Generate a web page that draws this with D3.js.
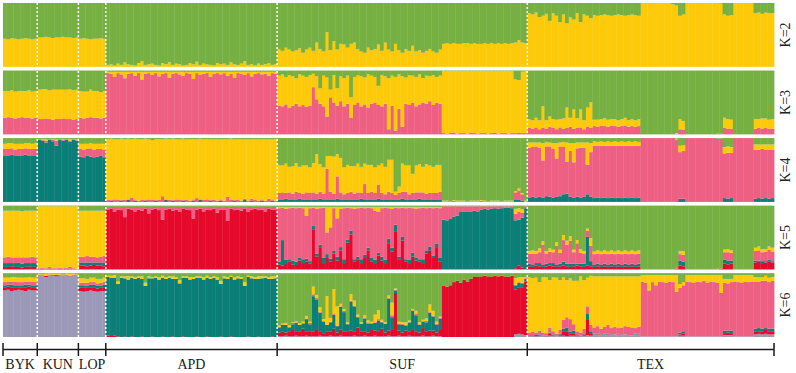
<!DOCTYPE html>
<html>
<head>
<meta charset="utf-8">
<script src="https://cdn.jsdelivr.net/npm/d3@7"></script>
<style>
  body { margin: 0; background: #fff; }
</style>
</head>
<body>
<div id="chart"></div>
<script>
const chart_width = 796;
const chart_height = 373;

// populations shown on the axis, and the sample blocks the values are typed in
const groups = ['BYK', 'KUN', 'LOP', 'APD', 'SUF', 'TEX'];
const group_blocks = [1, 1, 1, 1, 2, 2];           // SUF and TEX are typed as two blocks each
const block_sizes = [10, 12, 8, 50, 48, 25, 33, 39]; // individuals per block

const k_values = [2, 3, 4, 5, 6];
const k_labels = ['K=2', 'K=3', 'K=4', 'K=5', 'K=6'];

// clusters from bottom of the bar to top; green is whatever is left
const clusters = ['lavender', 'red', 'teal', 'pink', 'yellow', 'green'];
const cluster_colors = ['#9b98b8', '#e5092b', '#0b7f77', '#ee6083', '#fdca0a', '#76b043'];

// ancestry (%) per individual, one string per block: BYK, KUN, LOP, APD, SUF a, SUF b, TEX a, TEX b
const k2_yellow = [
    '44 43 45 44 43 44 45 44 43 44',
    '46 46 47 46 45 46 46 47 46 46 45 46',
    '44 45 44 43 44 44 45 44',
    '3 4 2 5 3 7 4 3 2 6 9 3 4 5 3 2 6 4 7 3 5 4 2 3 6 4 8 3 5 4 3 2 6 4 5 3 7 4 3 5 9 3 4 2 5 3 4 6 3 4',
    '28 25 30 27 24 26 29 22 27 30 25 38 28 24 54 26 40 27 36 35 30 36 38 28 24 22 30 26 28 35 25 38 27 24 36 26 22 28 25 33 24 26 22 25 28 24 22 27',
    '36 37 36 37 36 36 37 37 36 37 36 36 37 36 37 36 37 36 37 36 37 38 42 38 37',
    '84 82 85 78 80 83 72 84 80 70 82 68 78 74 84 70 82 80 76 81 80 81 82 81 80 81 82 81 80 81 82 81 80',
    '100 100 100 100 100 100 100 100 100 98 96 80 82 100 100 100 100 100 100 100 100 100 100 99 82 80 81 100 100 100 100 100 100 84 85 83 85 84 84'
];

const k3_pink = [
    '26 27 26 25 26 27 26 26 25 26',
    '24 24 25 24 23 24 24 25 24 24 23 24',
    '26 25 26 27 26 26 25 26',
    '96 95 90 96 94 88 95 96 92 96 86 95 96 93 96 91 95 96 89 95 96 94 92 96 95 87 96 93 95 96 90 95 96 94 96 92 95 89 96 95 93 96 91 95 96 94 95 92 96 95',
    '45 44 47 42 45 48 44 46 43 45 74 55 48 44 28 58 50 45 52 44 48 26 46 50 44 47 42 48 50 46 44 48 8 45 6 40 12 48 46 50 44 47 50 48 52 46 50 48',
    '2 1 2 3 1 2 2 1 3 2 1 2 2 1 2 3 1 2 2 1 2 2 3 2 2',
    '10 9 11 8 10 9 12 10 8 11 9 10 12 9 10 11 8 12 10 13 12 14 13 12 14 13 12 13 14 12 13 12 13',
    '0 0 0 0 0 0 0 0 0 0 1 8 7 0 0 0 0 0 0 0 0 0 1 1 10 9 9 0 0 0 0 0 0 9 10 9 10 9 9'
];
const k3_yellow = [
    '42 41 43 42 42 41 42 43 42 42',
    '46 47 46 45 47 46 46 45 46 47 46 46',
    '42 42 41 43 42 42 41 42',
    '2 3 8 2 4 10 3 2 6 2 12 3 2 5 2 7 3 2 9 3 2 4 6 2 3 11 2 5 3 2 8 3 2 4 2 6 3 9 2 3 5 2 7 3 2 4 3 6 2 3',
    '47 50 43 51 46 40 50 46 47 48 21 36 24 48 61 12 43 27 39 44 44 32 44 43 47 42 52 44 40 30 49 43 80 47 84 54 79 41 47 42 46 47 38 44 39 47 40 44',
    '97 98 97 96 98 97 97 98 96 97 98 97 97 98 97 96 98 97 97 98 97 84 82 96 97',
    '14 13 15 14 34 13 16 14 15 13 16 32 14 30 15 28 14 30 40 10 11 10 12 11 10 11 10 11 12 10 11 10 11',
    '0 0 0 0 0 0 0 0 0 0 1 16 14 0 0 0 0 0 0 0 0 0 0 0 16 15 14 0 0 0 0 0 0 15 14 16 15 14 15'
];

const k4_teal = [
    '73 72 74 73 72 73 74 72 73 73',
    '97 96 93 97 95 88 97 96 97 94 97 96',
    '71 70 72 71 70 71 72 70',
    '1 2 1 1 2 1 3 1 2 1 1 2 1 1 2 1 1 3 1 2 1 1 2 1 1 2 1 3 1 1 2 1 1 2 1 1 1 2 1 1 3 1 2 1 1 2 1 1 2 1',
    '4 3 5 4 3 4 5 3 4 4 3 4 5 3 4 4 3 5 4 3 4 4 3 4 5 3 4 4 3 5 4 3 4 4 3 4 5 4 3 4 4 5 3 4 4 3 4 4',
    '0 0 0 0 0 0 0 0 0 0 0 0 0 0 0 0 0 0 0 0 0 3 4 2 0',
    '7 8 7 8 7 9 8 7 8 9 12 13 8 7 8 7 8 12 8 6 7 6 7 6 7 6 7 6 7 6 7 6 7',
    '0 0 0 0 0 0 0 0 0 0 1 5 5 0 0 0 0 0 0 0 0 0 0 0 6 5 6 0 0 0 0 0 0 5 6 5 6 5 6'
];
const k4_pink = [
    '10 11 10 9 11 10 10 11 10 10',
    '1 1 3 1 2 8 1 1 1 2 1 1',
    '12 12 11 13 12 12 11 12',
    '2 1 3 2 1 2 1 6 2 1 2 1 3 2 1 2 8 1 2 1 3 2 1 2 1 2 5 1 2 3 1 2 1 2 1 7 2 1 2 1 2 1 3 2 1 2 1 4 2 1',
    '10 12 9 11 10 12 9 10 11 10 12 9 11 10 48 12 10 35 11 9 10 12 10 11 9 25 10 12 11 22 10 9 12 10 8 10 11 12 9 10 11 10 12 9 10 11 10 12',
    '1 1 1 2 1 1 1 1 1 1 1 2 1 1 1 1 1 1 1 1 1 12 14 10 1',
    '78 78 80 77 58 78 79 76 60 78 74 50 72 55 76 78 77 46 70 82 81 82 81 82 81 82 81 82 81 82 81 82 81',
    '100 100 100 100 100 100 100 100 100 100 97 73 75 100 100 100 100 100 100 100 100 100 99 99 70 72 71 100 100 100 100 100 100 77 76 78 76 77 76'
];
const k4_yellow = [
    '8 9 8 9 8 8 8 9 8 9',
    '0 1 2 0 1 2 0 1 0 2 0 1',
    '8 9 8 8 9 8 8 9',
    '95 96 94 95 96 95 95 91 95 96 95 96 94 94 95 95 89 95 95 96 94 95 96 95 96 94 92 95 95 94 95 95 96 94 96 90 96 95 95 96 93 96 93 95 96 94 96 93 94 96',
    '44 42 46 40 43 45 41 44 42 40 46 62 43 41 20 56 58 35 54 42 44 40 43 45 41 32 44 42 40 30 46 43 50 52 5 10 44 41 45 30 42 44 40 46 43 41 44 42',
    '1 1 0 1 1 1 1 0 1 1 1 1 1 0 1 1 1 0 1 1 1 2 3 2 1',
    '8 7 6 8 27 7 6 9 24 6 8 30 12 30 9 8 8 35 14 7 6 7 6 7 6 7 6 7 6 7 6 7 6',
    '0 0 0 0 0 0 0 0 0 0 1 10 9 0 0 0 0 0 0 0 0 0 0 0 10 10 9 0 0 0 0 0 0 8 8 7 8 8 8'
];

const k5_red = [
    '4 4 5 4 4 3 4 5 4 4',
    '0 1 0 1 0 0 1 0 1 0 0 0',
    '6 6 5 6 7 6 6 5',
    '94 95 90 94 93 82 95 94 91 94 92 95 88 94 95 93 78 94 95 92 94 90 95 94 93 80 94 95 91 94 93 95 89 94 94 76 95 93 94 92 95 90 94 95 93 94 91 95 94 93',
    '8 6 10 12 8 7 14 10 12 9 62 20 35 10 18 12 25 14 30 10 42 55 12 15 10 18 30 12 10 22 14 10 40 28 60 15 45 12 10 20 14 12 10 25 30 18 35 12',
    '0 0 0 0 0 0 0 0 0 0 0 0 0 0 0 0 0 0 0 0 0 2 6 3 0',
    '5 4 6 5 4 5 6 5 4 5 6 5 4 5 6 5 4 6 5 4 5 4 5 4 5 4 5 4 5 4 5 4 5',
    '0 0 0 0 0 0 0 0 0 0 1 6 5 0 0 0 0 0 0 0 0 0 0 1 9 8 9 0 0 0 0 0 0 11 12 10 11 12 11'
];
const k5_teal = [
    '6 6 5 6 7 6 6 5 6 6',
    '1 0 1 0 1 1 0 1 0 1 1 0',
    '5 5 6 5 4 5 5 6',
    '',
    '4 40 5 4 6 5 4 6 5 4 6 5 4 8 6 5 4 6 5 6 5 6 4 5 6 5 4 6 5 4 6 5 8 6 10 5 6 4 5 6 5 4 6 5 6 4 5 6',
    '78 77 79 83 84 90 91 90 91 92 91 94 95 94 95 96 95 96 97 97 96 75 72 78 96',
    '4 3 4 5 3 4 4 5 3 4 6 4 5 4 3 4 5 45 8 3 4 3 4 3 4 3 4 3 4 3 4 3 4',
    '0 0 0 0 0 0 0 0 0 0 0 8 7 0 0 0 0 0 0 0 0 0 0 0 6 6 5 0 0 0 0 0 0 3 2 3 2 3 2'
];
const k5_pink = [
    '9 10 9 9 8 10 9 9 10 9',
    '1 2 1 3 1 1 2 1 2 3 1 1',
    '9 9 10 9 9 8 9 10',
    '4 3 8 4 5 16 3 4 7 4 6 3 10 4 3 5 20 4 3 6 4 8 3 4 5 18 4 3 7 4 5 3 9 4 4 22 3 5 4 6 3 8 4 3 5 4 7 3 4 5',
    '84 51 80 80 83 84 79 80 67 83 29 70 57 79 34 49 67 60 60 80 50 35 79 76 81 73 63 78 77 64 76 82 48 61 27 76 46 80 82 70 76 80 81 66 61 74 57 78',
    '21 22 20 16 15 9 8 9 8 7 8 5 4 5 4 3 4 3 2 2 3 10 12 8 3',
    '16 18 15 17 32 16 18 17 30 17 34 30 36 18 32 17 16 10 24 17 16 17 16 17 16 17 16 17 16 17 16 17 16',
    '0 0 0 0 0 0 0 0 0 0 1 10 11 0 0 0 0 0 0 0 0 0 1 1 12 13 12 0 0 0 0 0 0 15 16 14 15 16 15'
];
const k5_yellow = [
    '73 72 73 73 73 72 73 73 72 73',
    '97 96 97 95 97 97 96 97 96 95 97 98',
    '72 72 71 72 72 73 72 71',
    '',
    '2 1 3 2 1 2 1 2 14 2 1 3 2 1 40 32 2 18 3 2 1 2 3 2 1 2 1 2 6 8 2 1 2 3 1 2 1 2 1 2 3 2 1 2 1 2 1 2',
    '0 0 0 0 0 0 0 0 0 0 0 0 0 0 0 0 0 0 0 0 0 8 6 5 0',
    '4 5 4 6 5 4 5 4 6 5 8 6 7 4 5 6 4 3 12 4 5 4 5 4 5 4 5 4 5 4 5 4 5',
    '0 0 0 0 0 0 0 0 0 0 0 5 6 0 0 0 0 0 0 0 0 0 0 0 4 5 4 0 0 0 0 0 0 5 6 5 4 5 6'
];

const k6_lavender = [
    '73 74 72 73 74 73 72 74 73 73',
    '98 97 94 98 96 95 98 97 98 95 98 97',
    '72 71 72 73 72 71 72 72',
    '',
    '1 1 2 1 1 2 1 1 2 1 1 1 2 1 1 2 1 1 2 1 1 1 2 1 1 2 1 1 2 1 1 1 2 1 1 2 1 1 2 1 1 1 2 1 1 2 1 1',
    '0 0 0 0 0 0 0 0 0 0 0 0 0 0 0 0 0 0 0 0 0 4 5 4 3',
    '2 2 1 2 2 1 2 2 1 2 2 1 2 2 1 2 2 3 2 4 4 3 4 4 3 4 4 3 4 4 3 4 4',
    '1 1 1 1 1 1 1 1 1 1 1 2 2 1 1 1 1 1 1 1 1 1 1 1 3 3 3 1 1 1 1 1 1 4 5 4 5 4 4'
];
const k6_red = [
    '5 5 6 5 4 5 6 5 5 5',
    '0 0 2 0 1 2 0 0 0 1 0 0',
    '5 6 5 5 6 5 5 6',
    '2 3 2 1 0 1 0 1 0 0 1 0 0 1 0 0 1 0 0 1 0 0 1 0 0 0 1 0 0 1 0 0 0 1 0 0 1 0 0 0 0 1 0 0 1 0 0 0 1 0',
    '6 8 5 7 10 6 8 12 6 7 8 10 6 5 8 7 12 6 10 8 7 9 6 14 8 7 6 10 8 7 12 6 8 10 68 8 6 9 7 10 8 6 12 7 9 8 6 10',
    '80 79 81 86 88 85 90 87 91 95 94 95 96 95 94 96 95 96 95 94 96 70 72 74 84',
    '1 0 2 1 0 1 3 1 0 2 6 8 3 4 1 0 2 25 4 0 1 0 0 1 0 0 1 0 0 1 0 0 1',
    '0 0 0 0 0 0 0 0 0 0 0 2 3 0 0 0 0 0 0 0 0 0 0 0 3 4 3 0 0 0 0 0 0 5 4 5 6 5 4'
];
const k6_teal = [
    '3 3 4 3 3 3 4 3 3 3',
    '',
    '4 4 3 4 4 4 3 4',
    '92 90 91 82 93 91 90 92 91 93 90 80 92 91 93 90 92 91 93 90 91 84 92 93 90 91 92 93 90 92 91 93 90 82 92 91 93 90 92 91 80 93 92 91 90 92 93 91 90 92',
    '8 10 12 7 9 14 10 8 20 12 55 48 30 18 10 14 22 10 35 30 12 45 40 16 12 20 14 10 12 18 10 14 50 20 4 10 12 8 14 30 25 12 10 15 28 22 12 18',
    '0 0 0 0 0 0 0 0 0 0 0 0 0 0 0 0 0 0 0 0 0 6 8 5 4',
    '0 1 0 1 0 0 2 1 0 1 5 6 3 4 1 0 1 8 3 1 0 1 1 0 1 0 0 1 0 1 0 1 0',
    '0 0 0 0 0 0 0 0 0 0 0 3 4 0 0 0 0 0 0 0 0 0 0 0 4 3 4 0 0 0 0 0 0 4 5 4 3 4 5'
];
const k6_pink = [
    '5 5 5 6 5 5 5 5 6 5',
    '',
    '4 4 5 4 4 4 5 4',
    '',
    '1 1 0 1 2 1 0 1 1 2 3 2 1 1 0 1 2 1 1 2 1 2 1 1 0 1 2 1 1 2 1 0 1 3 1 1 2 1 0 1 2 1 1 2 1 1 2 1',
    '0 0 0 0 0 0 0 0 0 0 0 0 0 0 0 0 0 0 0 0 0 2 1 2 1',
    '4 5 4 6 5 4 8 5 4 6 14 16 20 10 6 5 8 12 10 10 12 9 11 14 10 12 9 11 13 10 12 9 11',
    '86 84 72 85 80 86 85 84 86 85 70 70 72 86 85 84 86 85 87 84 86 85 84 68 75 74 76 86 85 84 86 85 86 74 73 75 74 73 75'
];
const k6_yellow = [
    '7 6 7 7 7 7 6 7 6 7',
    '1 1 3 1 2 2 1 1 1 3 1 1',
    '7 7 6 7 7 7 6 7',
    '2 3 4 4 2 3 5 2 3 2 4 5 3 2 2 4 3 3 2 4 3 5 2 2 4 3 2 2 4 3 3 2 4 5 3 3 2 4 3 3 6 2 3 3 4 3 2 3 4 3',
    '2 1 3 2 1 2 3 2 4 2 12 5 8 3 45 6 38 30 4 3 2 10 8 3 2 4 3 2 12 14 3 2 4 20 2 3 2 4 3 2 5 3 2 4 12 8 3 2',
    '0 0 0 0 0 0 0 0 0 0 0 0 0 0 0 0 0 0 0 0 0 10 8 9 2',
    '87 84 86 76 87 88 74 85 88 78 67 58 64 68 79 88 76 45 77 80 78 82 79 76 81 79 81 80 78 79 80 81 79',
    '10 12 24 11 16 10 11 12 10 11 26 6 5 10 11 12 10 11 9 12 10 11 12 28 6 7 5 10 11 12 10 11 10 7 7 6 8 7 6'
];

const k_tables = {
    2: { yellow: k2_yellow },
    3: { pink: k3_pink, yellow: k3_yellow },
    4: { teal: k4_teal, pink: k4_pink, yellow: k4_yellow },
    5: { red: k5_red, teal: k5_teal, pink: k5_pink, yellow: k5_yellow },
    6: { lavender: k6_lavender, red: k6_red, teal: k6_teal, pink: k6_pink, yellow: k6_yellow }
};

//--------------------------------------------------------------------
// turn the block strings into one list of individuals per K
const n_ind = d3.sum(block_sizes);

function parse_blocks(blocks) {
    let out = [];
    blocks.forEach((s, b) => {
        let v = s.trim() === '' ? [] : s.trim().split(/\s+/).map(Number);
        if (s.trim() !== '' && v.length !== block_sizes[b]) console.log('block length', b, v.length);
        for (let i = 0; i < block_sizes[b]; i++) out.push(v[i] || 0);
    });
    return out;
}

function individuals_for(k) {
    const keys = clusters.slice(6 - k);
    const cols = {};
    keys.forEach(c => { if (k_tables[k][c]) cols[c] = parse_blocks(k_tables[k][c]); });
    return d3.range(n_ind).map(i => {
        const d = {};
        let sum = 0;
        keys.forEach(c => {
            if (c === 'green') return;
            d[c] = cols[c] ? cols[c][i] : 0;
            sum += d[c];
        });
        d.green = Math.max(0, 100 - sum);
        const tot = d3.sum(keys, c => d[c]);
        keys.forEach(c => d[c] = d[c] * 100 / tot);
        return d;
    });
}

//--------------------------------------------------------------------
// create svg element
const svg = d3.select('#chart')
    .append('svg')
    .attr('width', chart_width)
    .attr('height', chart_height);

const x_scale = d3.scaleLinear()
    .domain([0, n_ind])
    .range([3, 774]);

const row_scale = d3.scaleBand()
    .domain(k_values)
    .range([3, 337])
    .paddingInner(0.055);

const color = d3.scaleOrdinal()
    .domain(clusters)
    .range(cluster_colors);

// bars
k_values.forEach((k, ki) => {
    const keys = clusters.slice(6 - k);
    const data = individuals_for(k);
    const stacked = d3.stack().keys(keys)(data);
    const y_scale = d3.scaleLinear()
        .domain([0, 100])
        .range([row_scale(k) + row_scale.bandwidth(), row_scale(k)]);

    const row = svg.append('g').attr('class', 'row-k' + k);
    row.selectAll('g')
        .data(stacked)
        .enter()
        .append('g')
        .attr('fill', d => color(d.key))
        .selectAll('rect')
        .data(d => d)
        .enter()
        .append('rect')
        .attr('x', (d, i) => x_scale(i))
        .attr('width', (d, i) => x_scale(i + 1) - x_scale(i) + 0.4)
        .attr('y', d => y_scale(d[1]))
        .attr('height', d => Math.max(0, y_scale(d[0]) - y_scale(d[1])));

    svg.append('text')
        .attr('transform', 'translate(785,' + (row_scale(k) + row_scale.bandwidth() / 2) + ') rotate(-90)')
        .attr('text-anchor', 'middle')
        .attr('dy', '0.35em')
        .attr('font-family', '"Liberation Serif", "Times New Roman", serif')
        .attr('font-size', 14)
        .attr('fill', '#222')
        .text(k_labels[ki]);
});

//--------------------------------------------------------------------
// group boundaries (in individuals)
let bounds = [0];
let b_idx = 0;
group_blocks.forEach(nb => {
    let s = 0;
    for (let j = 0; j < nb; j++) s += block_sizes[b_idx++];
    bounds.push(bounds[bounds.length - 1] + s);
});

// white dotted separators
svg.append('g')
    .selectAll('line')
    .data(bounds.slice(1, -1))
    .enter()
    .append('line')
    .attr('x1', d => x_scale(d))
    .attr('x2', d => x_scale(d))
    .attr('y1', 3)
    .attr('y2', 337)
    .attr('stroke', '#fff')
    .attr('stroke-width', 1.5)
    .attr('stroke-dasharray', '2,2');

// bottom axis with group ticks
const axis_y = 349.5;
const axis = svg.append('g').attr('stroke', '#1a1a1a').attr('stroke-width', 1.5);
axis.append('line')
    .attr('x1', x_scale(0))
    .attr('x2', x_scale(n_ind))
    .attr('y1', axis_y)
    .attr('y2', axis_y);
axis.selectAll('.tick')
    .data(bounds)
    .enter()
    .append('line')
    .attr('class', 'tick')
    .attr('x1', d => x_scale(d))
    .attr('x2', d => x_scale(d))
    .attr('y1', axis_y - 6.5)
    .attr('y2', axis_y + 6.5);

svg.append('g')
    .selectAll('text')
    .data(groups)
    .enter()
    .append('text')
    .attr('x', (d, i) => (x_scale(bounds[i]) + x_scale(bounds[i + 1])) / 2)
    .attr('y', 369)
    .attr('text-anchor', 'middle')
    .attr('font-family', '"Liberation Serif", "Times New Roman", serif')
    .attr('font-size', 14)
    .attr('fill', '#1a1a1a')
    .text(d => d);
</script>
</body>
</html>
